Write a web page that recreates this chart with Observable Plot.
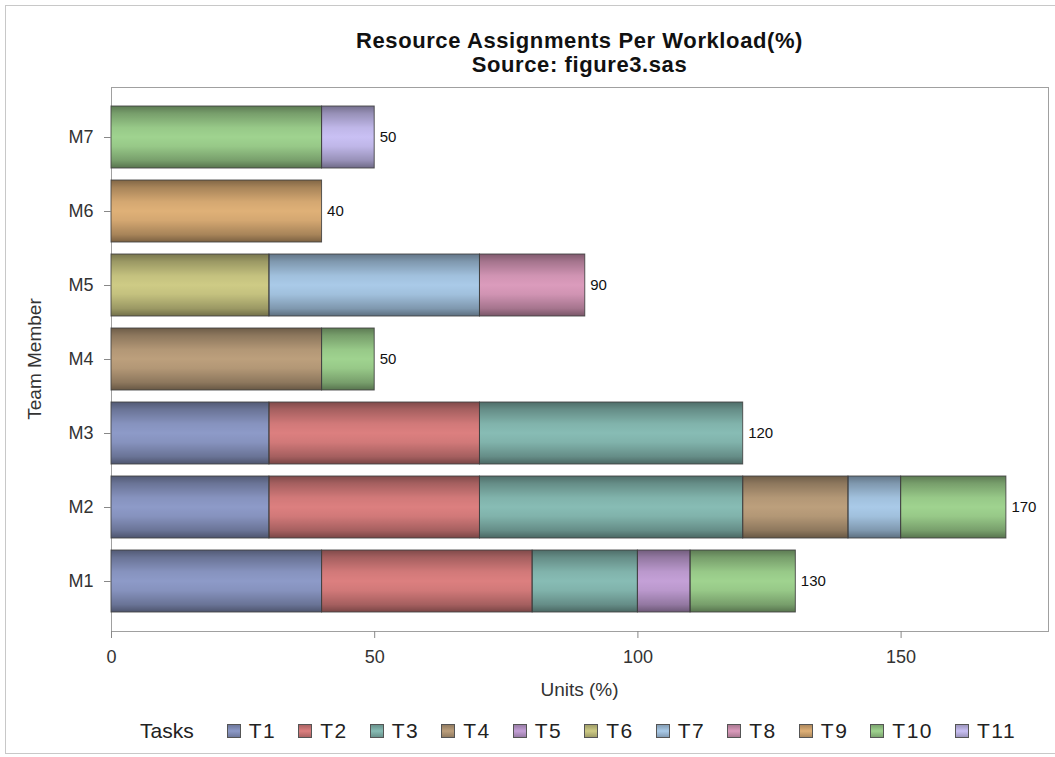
<!DOCTYPE html>
<html>
<head>
<meta charset="utf-8">
<script src="https://cdn.jsdelivr.net/npm/d3@7"></script>
<script src="https://cdn.jsdelivr.net/npm/@observablehq/plot@0.6"></script>
<style>
  html, body { margin: 0; padding: 0; background: #fff; }
  body { width: 1055px; height: 757px; position: relative; overflow: hidden; font-family: "Liberation Sans", Arial, sans-serif; }
  #border { position: absolute; left: 5px; top: 5px; width: 1060px; height: 749px; border: 1px solid #c8c8c8; box-sizing: border-box; }
  .title { position: absolute; left: 111px; width: 937px; text-align: center; font-weight: bold; font-size: 22px; letter-spacing: 0.6px; color: #111; line-height: 24px; }
  #chart { position: absolute; left: 0; top: 80px; }
  .axlab { position: absolute; font-size: 19px; color: #333; line-height: 20px; white-space: nowrap; }
  #xlab { left: 111px; width: 937px; text-align: center; top: 680px; }
  #ylab { left: 35px; top: 359px; transform: translate(-50%, -50%) rotate(-90deg); }
  #legend { position: absolute; top: 718px; left: 140px; display: flex; align-items: center; font-size: 21px; color: #222; white-space: nowrap; line-height: 26px; }
  #legend .lab { margin-right: 33px; }
  #legend .item { display: flex; align-items: center; margin-right: 22px; }
  #legend .item span:last-child { letter-spacing: 1.5px; }
  #legend .sw { width: 14px; height: 14px; border: 1px solid #555; margin-right: 8px; box-sizing: border-box; }
</style>
</head>
<body>
<div id="border"></div>
<div class="title" style="top:29px">Resource Assignments Per Workload(%)</div>
<div class="title" style="top:53px">Source: figure3.sas</div>
<div id="chart"></div>
<div class="axlab" id="xlab">Units (%)</div>
<div class="axlab" id="ylab">Team Member</div>
<div id="legend"></div>
<script>
const members = ["M1", "M2", "M3", "M4", "M5", "M6", "M7"];
const tasks = ["T1", "T2", "T3", "T4", "T5", "T6", "T7", "T8", "T9", "T10", "T11"];
const taskColors = ["#8d9ac8", "#dc7f7f", "#87bcb4", "#bc9f7c", "#c4a0d7", "#cecb85", "#a9cae8", "#db9bbc", "#dfb077", "#9fd38f", "#c9c0f4"];
const xTicks = [0, 50, 100, 150];

const rowMember = ["M1", "M1", "M1", "M1", "M1",
                   "M2", "M2", "M2", "M2", "M2", "M2",
                   "M3", "M3", "M3",
                   "M4", "M4",
                   "M5", "M5", "M5",
                   "M6",
                   "M7", "M7"];
const rowTask = ["T1", "T2", "T3", "T5", "T10",
                 "T1", "T2", "T3", "T4", "T7", "T10",
                 "T1", "T2", "T3",
                 "T4", "T10",
                 "T6", "T7", "T8",
                 "T9",
                 "T10", "T11"];
const rowUnits = [40, 40, 20, 10, 20,
                  30, 40, 50, 20, 10, 20,
                  30, 40, 50,
                  40, 10,
                  30, 40, 20,
                  40,
                  40, 10];

const data = rowMember.map((m, i) => ({member: m, task: rowTask[i], units: rowUnits[i]}));

const defs = () => {
  const d = d3.create("svg:defs");
  const g = d.append("linearGradient").attr("id", "shade").attr("x1", 0).attr("y1", 0).attr("x2", 0).attr("y2", 1);
  [[0, 0.42], [0.12, 0.25], [0.35, 0.05], [0.5, 0], [0.65, 0.05], [0.88, 0.25], [1, 0.45]].forEach(([o, a]) =>
    g.append("stop").attr("offset", o).attr("stop-color", "#000").attr("stop-opacity", a));
  return d.node();
};

const chart = Plot.plot({
  width: 1055,
  height: 625,
  marginTop: 7,
  marginBottom: 74,
  marginLeft: 111,
  marginRight: 7,
  style: {fontFamily: "'Liberation Sans', Arial, sans-serif", fontSize: "18px", color: "#333", background: "transparent"},
  x: {domain: [0, 178], ticks: xTicks, label: null},
  y: {domain: members.slice().reverse(), paddingInner: 0.16, paddingOuter: 0.21, label: null},
  color: {domain: tasks, range: taskColors},
  marks: [
    defs,
    Plot.frame({stroke: "#a0a0a0", strokeWidth: 1}),
    Plot.barX(data, Plot.stackX({y: "member", x: "units", z: "task", fill: "task", order: null})),
    Plot.barX(data, Plot.stackX({y: "member", x: "units", z: "task", fill: "url(#shade)", stroke: "#404040", strokeWidth: 1, strokeOpacity: 0.85, order: null})),
    Plot.text(data, Plot.groupY({x: "sum", text: "sum"}, {y: "member", x: "units", text: "units", dx: 5, textAnchor: "start", fontSize: 15, fill: "#111"})),
    Plot.axisX({ticks: xTicks, tickSize: 7, tickPadding: 12, stroke: "#888", color: "#333", fontSize: 18, label: null}),
    Plot.axisY({tickSize: 7, tickPadding: 11, stroke: "#888", color: "#333", fontSize: 18, label: null})
  ]
});
document.getElementById("chart").appendChild(chart);

const legend = document.getElementById("legend");
const lab = document.createElement("span");
lab.className = "lab";
lab.textContent = "Tasks";
legend.appendChild(lab);
tasks.forEach((t, i) => {
  const it = document.createElement("span");
  it.className = "item";
  const sw = document.createElement("span");
  sw.className = "sw";
  sw.style.background = `linear-gradient(to bottom, ${d3.color(taskColors[i]).darker(0.7)}, ${taskColors[i]} 50%, ${d3.color(taskColors[i]).darker(0.7)})`;
  it.appendChild(sw);
  const tx = document.createElement("span");
  tx.textContent = t;
  it.appendChild(tx);
  legend.appendChild(it);
});
</script>
</body>
</html>
